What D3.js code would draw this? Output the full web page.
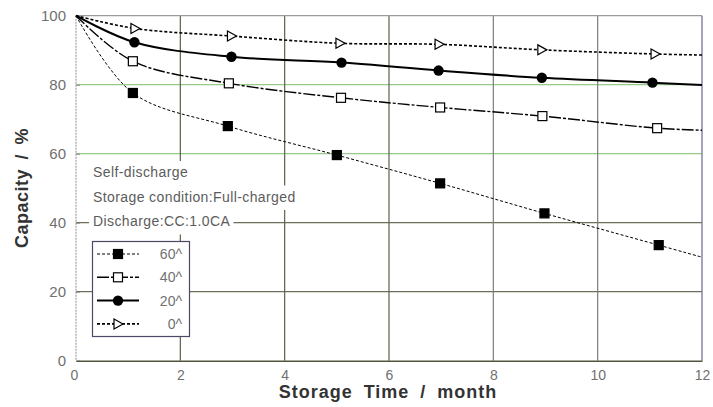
<!DOCTYPE html>
<html>
<head>
<meta charset="utf-8">
<script src="https://cdn.jsdelivr.net/npm/d3@7"></script>
<style>
  body { margin: 0; background: #fff; }
  svg { display: block; font-family: "Liberation Sans", Arial, sans-serif; }
</style>
</head>
<body>
<svg id="chart" width="713" height="407"></svg>
<script>
// values (first and last point are where the curve meets the frame)
var months60 = [0, 1.09, 2.91, 5.0, 6.98, 8.98, 11.17, 12];
var cap60 = [100, 77.6, 68.0, 59.6, 51.4, 42.7, 33.5, 30.0];
var months40 = [0, 1.09, 2.93, 5.08, 6.98, 8.94, 11.14, 12];
var cap40 = [100, 86.8, 80.4, 76.2, 73.4, 70.9, 67.4, 66.8];
var months20 = [0, 1.12, 2.98, 5.09, 6.95, 8.93, 11.05, 12];
var cap20 = [100, 92.3, 88.1, 86.4, 84.1, 82.0, 80.6, 79.9];
var months0 = [0, 1.13, 2.98, 5.06, 6.96, 8.93, 11.1, 12];
var cap0 = [100, 96.3, 94.1, 92.0, 91.7, 90.1, 88.9, 88.6];

var seriesNames = ['60^', '40^', '20^', '0^'];
var xTicks = [0, 2, 4, 6, 8, 10, 12];
var yTicks = [0, 20, 40, 60, 80, 100];
var notes = ['Self-discharge', 'Storage condition:Full-charged', 'Discharge:CC:1.0CA'];

var series = [
  { name: seriesNames[0], x: months60, y: cap60, marker: 'square', fill: '#000', dash: '3,2', width: 1 },
  { name: seriesNames[1], x: months40, y: cap40, marker: 'square', fill: '#fff', dash: '12,2,3,2', width: 1.4 },
  { name: seriesNames[2], x: months20, y: cap20, marker: 'circle', fill: '#000', dash: null, width: 2 },
  { name: seriesNames[3], x: months0, y: cap0, marker: 'triangle', fill: '#fff', dash: '3,2', width: 1.6 }
];

var svg = d3.select('#chart');
var plotLeft = 76, plotRight = 702, plotTop = 15.7, plotBottom = 360.7;

var x = d3.scaleLinear().domain([0, 12]).range([plotLeft, plotRight]);
var y = d3.scaleLinear().domain([0, 100]).range([plotBottom, plotTop]);

// grid
var gridColor = function(v) { return v >= 60 ? '#98c98c' : '#6e6e5a'; };
svg.append('g').selectAll('line').data(yTicks.filter(function(v) { return v > 0 && v < 100; }))
  .enter().append('line')
  .attr('x1', plotLeft).attr('x2', plotRight)
  .attr('y1', function(d) { return y(d); }).attr('y2', function(d) { return y(d); })
  .attr('stroke', gridColor).attr('stroke-width', 1.3);

svg.append('g').selectAll('line').data(xTicks.filter(function(v) { return v > 0 && v < 12; }))
  .enter().append('line')
  .attr('x1', function(d) { return x(d); }).attr('x2', function(d) { return x(d); })
  .attr('y1', plotTop).attr('y2', plotBottom)
  .attr('stroke', function(d) { return d >= 8 ? '#7c7c7c' : '#5f5f48'; }).attr('stroke-width', 1.2);

// frame
svg.append('line').attr('x1', plotLeft).attr('x2', plotRight).attr('y1', plotTop).attr('y2', plotTop)
  .attr('stroke', '#9a9a9a').attr('stroke-width', 1.2);
svg.append('line').attr('x1', plotRight).attr('x2', plotRight).attr('y1', plotTop).attr('y2', plotBottom)
  .attr('stroke', '#7d7d9c').attr('stroke-width', 1.4);
svg.append('line').attr('x1', plotLeft).attr('x2', plotLeft).attr('y1', plotTop).attr('y2', plotBottom)
  .attr('stroke', '#b5b5b5').attr('stroke-width', 1.5).attr('stroke-dasharray', '2,1');

// axes
var yAxis = d3.axisLeft(y).tickValues(yTicks).tickSize(-4).tickPadding(10);
var gy = svg.append('g').attr('transform', 'translate(' + plotLeft + ',0)').call(yAxis);
gy.select('.domain').remove();
gy.selectAll('.tick line').attr('stroke', '#888');
gy.selectAll('.tick text').attr('fill', '#707070').attr('font-size', 15)
  .attr('font-family', '"Liberation Sans", Arial, sans-serif');

var xAxis = d3.axisBottom(x).tickValues(xTicks).tickSize(0).tickPadding(9);
var gx = svg.append('g').attr('transform', 'translate(0,' + plotBottom + ')').call(xAxis);
gx.select('.domain').attr('stroke', '#55553f').attr('stroke-width', 1.6);
gx.selectAll('.tick text').attr('fill', '#707070').attr('font-size', 14)
  .attr('font-family', '"Liberation Sans", Arial, sans-serif');
gx.selectAll('.tick text').filter(function(d) { return d === 0; }).attr('dx', -2);

svg.append('text')
  .attr('x', 388).attr('y', 398)
  .attr('text-anchor', 'middle')
  .attr('font-size', 18).attr('font-weight', 'bold').attr('fill', '#333')
  .attr('letter-spacing', 1).attr('word-spacing', 5)
  .text('Storage Time / month');

svg.append('text')
  .attr('transform', 'translate(28,188) rotate(-90)')
  .attr('text-anchor', 'middle')
  .attr('font-size', 18).attr('font-weight', 'bold').attr('fill', '#333')
  .attr('letter-spacing', 0.5).attr('word-spacing', 4)
  .text('Capacity / %');

// notes with white backing
var noteG = svg.append('g');
notes.forEach(function(t, i) {
  var by = 177 + i * 24.5;
  var rect = noteG.append('rect').attr('fill', '#fff');
  var txt = noteG.append('text')
    .attr('x', 93).attr('y', by)
    .attr('font-size', 14).attr('fill', '#5c5c5c')
    .attr('letter-spacing', 0.4)
    .text(t);
  var bb = txt.node().getBBox();
  rect.attr('x', bb.x - 4).attr('y', by - 16).attr('width', bb.width + 7).attr('height', 24.5);
});

// curves
var line = d3.line()
  .x(function(d) { return x(d[0]); })
  .y(function(d) { return y(d[1]); })
  .curve(d3.curveCatmullRom.alpha(0.5));

var drawMarker = function(g, s, cx, cy) {
  if (s.marker === 'square') {
    g.append('rect').attr('x', cx - 4.5).attr('y', cy - 4.5).attr('width', 9).attr('height', 9)
      .attr('fill', s.fill).attr('stroke', '#000').attr('stroke-width', 1.2);
  } else if (s.marker === 'circle') {
    g.append('circle').attr('cx', cx).attr('cy', cy).attr('r', 5.2).attr('fill', '#000');
  } else {
    g.append('path')
      .attr('d', 'M' + (cx - 4) + ',' + (cy - 5) + 'L' + (cx + 5) + ',' + cy + 'L' + (cx - 4) + ',' + (cy + 5) + 'Z')
      .attr('fill', '#fff').attr('stroke', '#000').attr('stroke-width', 1.2);
  }
};

series.forEach(function(s) {
  var pts = s.x.map(function(v, i) { return [v, s.y[i]]; });
  var g = svg.append('g');
  g.append('path')
    .attr('d', line(pts))
    .attr('fill', 'none').attr('stroke', '#000')
    .attr('stroke-width', s.width)
    .attr('stroke-dasharray', s.dash);
  pts.slice(1, -1).forEach(function(p) { drawMarker(g, s, x(p[0]), y(p[1])); });
});

// legend
var lg = svg.append('g');
lg.append('rect').attr('x', 92.5).attr('y', 241.5).attr('width', 97).attr('height', 95)
  .attr('fill', '#fff').attr('stroke', '#4a4a66').attr('stroke-width', 1.2);
series.forEach(function(s, i) {
  var ry = 254 + i * 23.3;
  lg.append('line').attr('x1', 97).attr('x2', 139).attr('y1', ry).attr('y2', ry)
    .attr('stroke', '#000').attr('stroke-width', s.width).attr('stroke-dasharray', s.dash);
  drawMarker(lg, s, 118, ry);
  lg.append('text').attr('x', 182).attr('y', ry + 5)
    .attr('text-anchor', 'end').attr('font-size', 14).attr('fill', '#707070')
    .text(s.name);
});
</script>
</body>
</html>
